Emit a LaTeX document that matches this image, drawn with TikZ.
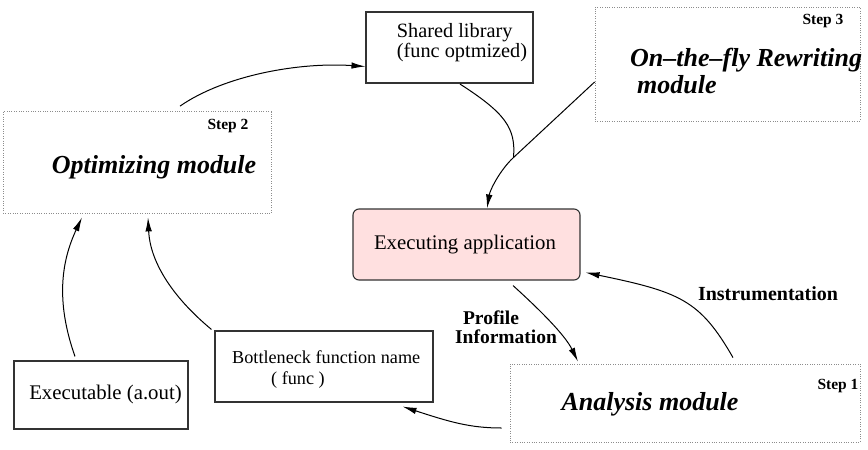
\documentclass[tikz,border=0pt]{standalone}
\usepackage{fontspec}
\setmainfont{Liberation Serif}
\usetikzlibrary{arrows.meta,calc}
\begin{document}
\begin{tikzpicture}[x=1pt,y=-1pt,
  plainbox/.style={draw=black!80,line width=1.1pt,minimum width=#1,inner sep=0pt},
  stepbox/.style={draw=black!45,line width=0.8pt,dash pattern=on 0.8pt off 1.6pt,inner sep=0pt},
  conn/.style={line width=1pt,-{Latex[length=14pt,width=6.5pt]}},
  plainline/.style={line width=1pt},
  modfont/.style={font=\fontsize{26}{27}\selectfont\bfseries\itshape},
  stepfont/.style={font=\fontsize{15.5}{17}\selectfont\bfseries},
  lblfont/.style={font=\fontsize{19.5}{20}\selectfont\bfseries},
  txtfont/.style={font=\fontsize{20.8}{21}\selectfont}]
\useasboundingbox (0,0) rectangle (868,450);
% boxes
\node[plainbox=167pt,minimum height=71pt] (shared) at (449.5,47.5) {};
\node[font=\fontsize{20.3}{20}\selectfont,align=left,anchor=center] (sharedtxt) at (462,43) {Shared library\\(func optmized)};
\node[stepbox,minimum width=265pt,minimum height=114pt] (step3) at (727.5,64) {};
\node[stepfont] (s3lbl) at (823,21) {Step 3};
\node[modfont,align=left,anchor=west,inner sep=0pt] (s3txt) at (630,71) {On--the--fly Rewriting\\\hspace{7pt}module};
\node[stepbox,minimum width=268pt,minimum height=102pt] (step2) at (137,162.5) {};
\node[stepfont] (s2lbl) at (228,126) {Step 2};
\node[modfont] (s2txt) at (154,167) {Optimizing module};
\node[draw=black!80,line width=1.1pt,fill=red!12,rounded corners=6pt,minimum width=227pt,minimum height=71pt,inner sep=0pt] (exec) at (466.5,244.5) {};
\node[txtfont] (exectxt) at (465,245) {Executing application};
\node[plainbox=218pt,minimum height=71pt] (bott) at (324,366.5) {};
\node[font=\fontsize{18.2}{21}\selectfont,align=left,anchor=west,inner sep=0pt] (botttxt) at (232,370) {Bottleneck function name\\\hspace{39pt}( func )};
\node[plainbox=174pt,minimum height=68pt] (exe) at (101,395) {};
\node[txtfont] (exetxt) at (105.5,394) {Executable (a.out)};
\node[stepbox,minimum width=350pt,minimum height=78pt] (step1) at (685,403) {};
\node[stepfont] (s1lbl) at (838,386) {Step 1};
\node[modfont] (s1txt) at (650,404) {Analysis module};
% labels
\node[font=\fontsize{20}{20}\selectfont\bfseries] (instr) at (768,294) {Instrumentation};
\node[lblfont] (prof) at (491,318) {Profile};
\node[lblfont] (info) at (506,337) {Information};
% connectors
\draw[conn] ($(step2.north)+(43,-5)$) .. controls (225,75) and (300,62) .. ($(shared.west)+(0,19)$);
\draw[plainline] ($(shared.south)+(10.5,0.5)$) .. controls (505,113) and (516,128) .. (513.5,157.5);
\draw[conn] ($(step3.west)+(0,18)$) -- (513.5,157.5) .. controls (500,170) and (490,190) .. ($(exec.north)+(20.5,0)$);
\draw[conn] ($(exec.south)+(46.5,5)$) .. controls (540,310) and (565,335) .. ($(step1.north)+(-107,-2)$);
\draw[conn] ($(step1.north)+(48,-6)$) .. controls (700,300) and (680,292) .. ($(exec.east)+(5,28)$);
\draw[conn] ($(step1.west)+(-8,25)$) .. controls (470,428) and (450,422) .. ($(bott.south east)+(-31,4)$);
\draw[conn] ($(bott.north west)+(-3,-1)$) .. controls (170,295) and (150,260) .. ($(step2.south)+(11,3.5)$);
\draw[conn] ($(exe.north)+(-26,-4)$) .. controls (55,300) and (62,260) .. ($(step2.south)+(-55,3.5)$);
\end{tikzpicture}
\end{document}
